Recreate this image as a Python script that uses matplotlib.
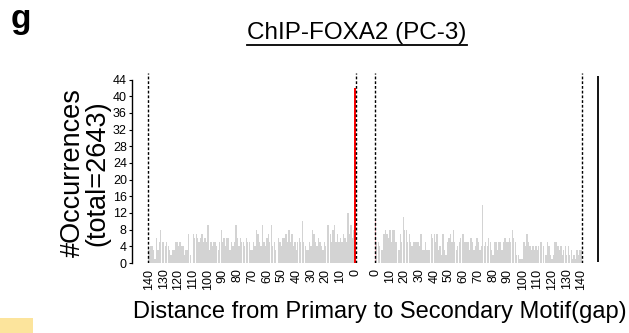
import matplotlib.pyplot as plt
import numpy as np
from matplotlib.patches import Rectangle
from matplotlib.lines import Line2D

plt.rcParams['font.family'] = ['Liberation Sans', 'DejaVu Sans']

# counts
# upstream: gap 140 -> 0 (left to right), last one is the highlighted gap 0
upstream = [3, 4, 4, 3, 1, 6, 3, 5, 8, 5,
            5, 4, 5, 4, 3, 2, 3, 3, 5, 5,
            4, 5, 4, 4, 2, 3, 3, 7, 2, 0,
            7, 6, 7, 6, 5, 6, 7, 5, 6, 5,
            9, 3, 5, 4, 5, 5, 4, 3, 5, 8,
            5, 6, 4, 6, 6, 3, 5, 4, 5, 9,
            6, 4, 6, 5, 5, 4, 6, 5, 5, 3,
            3, 5, 4, 8, 7, 5, 4, 9, 5, 4,
            6, 7, 5, 9, 4, 5, 3, 0, 6, 5,
            4, 6, 6, 7, 5, 8, 5, 7, 4, 5,
            3, 5, 6, 5, 10, 5, 4, 3, 3, 5,
            4, 8, 7, 5, 4, 6, 5, 4, 3, 5,
            4, 9, 9, 7, 5, 8, 9, 5, 7, 5,
            6, 5, 7, 6, 5, 12, 7, 9, 6, 8,
            42]
# downstream: gap 0 -> 140 (left to right), first one is gap 0
downstream = [10,
              5, 5, 4, 3, 3, 7, 8, 7, 6, 8, 5, 8, 8, 5,
              0, 3, 7, 5, 11,
              8, 8, 5, 7, 5, 4, 5, 5, 5, 5,
              4, 7, 3, 3, 5, 3, 3, 3, 7, 6,
              7, 5, 7, 3, 4, 2, 7, 3, 2, 5,
              6, 7, 5, 8, 5, 3, 4, 5, 6, 7,
              7, 5, 5, 5, 3, 6, 5, 3, 4, 6,
              5, 3, 4, 14, 4, 5, 4, 6, 5, 3,
              2, 5, 5, 3, 5, 5, 3, 5, 6, 5,
              5, 6, 5, 8, 6, 5, 2, 2, 1, 1,
              1, 5, 4, 7, 5, 4, 3, 4, 3, 4,
              3, 4, 5, 5, 4, 0, 2, 5, 4, 2,
              1, 2, 5, 5, 4, 3, 4, 2, 3, 4,
              2, 4, 2, 3, 1, 2, 1, 3, 2, 3, 3]
tick_gaps = list(range(140, -1, -10))
total = 2643

W, H = 629, 333
fig = plt.figure(figsize=(W / 100, H / 100), dpi=100)

px_per_unit = 1.473
y_px = 4.17
ax_left, ax_right, ax_bottom = 131.7, 605, 263
xmin = -(148.3 - ax_left) / px_per_unit
xmax = (ax_right - 148.3) / px_per_unit
ax = fig.add_axes([ax_left / W, (H - ax_bottom) / H,
                   (ax_right - ax_left) / W, 46 * y_px / H])

n = len(upstream)
right_start = n + 12.6
left_x = np.arange(n) + 0.5
right_x = right_start + np.arange(n) + 0.5

left_colors = ["#d3d3d3"] * (n - 1) + ["red"]
right_colors = ["pink"] + ["#d3d3d3"] * (n - 1)
ax.bar(left_x, upstream, width=0.9, color=left_colors, linewidth=0)
ax.bar(right_x, downstream, width=0.9, color=right_colors, linewidth=0)
# make the highlighted bar a bit bolder like the original
ax.bar(left_x[-1], upstream[-1], width=1.2, color="red", linewidth=0)

ax.vlines([0, n, right_start, right_start + n], 0, 45.5, colors="black",
          linestyles=(0, (2, 1.4)), linewidth=1)
ax.vlines(right_start + n + 10.7, 0.2, 44.8, colors="black", linewidth=1.3)

ax.set_xlim(xmin, xmax)
ax.set_ylim(0, 46)
for s in ["top", "right", "bottom"]:
    ax.spines[s].set_visible(False)
ax.spines["left"].set_bounds(0, 44)
ax.spines["left"].set_linewidth(1)
ax.set_yticks(range(0, 45, 4))
ax.tick_params(axis="y", length=2.5, width=0.8, pad=1, labelsize=9)

xt = [n - 1 - g + 0.5 for g in tick_gaps] + [right_start + g + 0.5 for g in tick_gaps[::-1]]
xl = [str(g) for g in tick_gaps] + [str(g) for g in tick_gaps[::-1]]
ax.set_xticks(xt)
ax.set_xticklabels(xl, rotation=90, fontsize=9)
ax.tick_params(axis="x", length=0, pad=4)

fig.text(11 / W, 1 - 4 / H, "g", fontweight="bold", fontsize=24, va="top", ha="left")
title = fig.text(357 / W, 1 - 33 / H, "ChIP-FOXA2 (PC-3)", ha="center", va="center", fontsize=17.5)
fig.text(85 / W, 1 - 173 / H, f"#Occurrences\n(total={total})", rotation=90,
         ha="center", va="center", fontsize=19.5, linespacing=0.93)
fig.text(380 / W, 1 - 312 / H, "Distance from Primary to Secondary Motif(gap)",
         ha="center", va="center", fontsize=17)

# underline the title
fig.canvas.draw()
bb = title.get_window_extent(fig.canvas.get_renderer())
fig.add_artist(Line2D([bb.x0 / W, bb.x1 / W], [(bb.y0 - 1) / H, (bb.y0 - 1) / H],
                      transform=fig.transFigure, color="black", linewidth=1.3))

fig.patches.append(Rectangle((0, 0), 33 / W, 15 / H, transform=fig.transFigure,
                             facecolor="#fce49c", edgecolor="none"))

fig.savefig("out.png", dpi=100)
